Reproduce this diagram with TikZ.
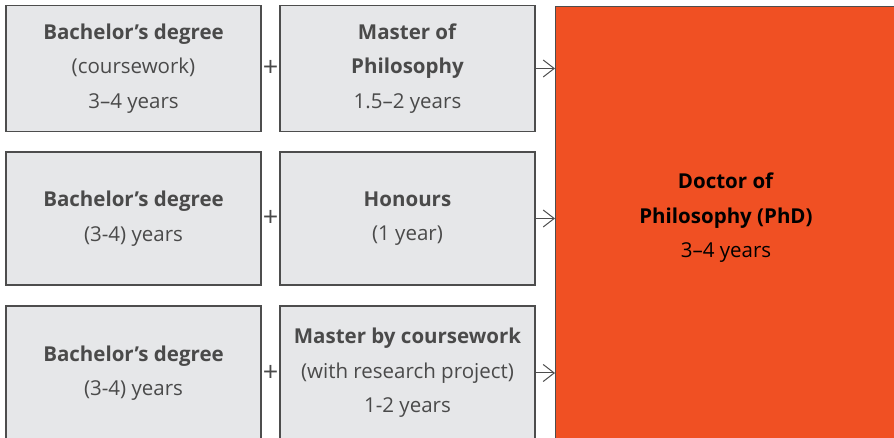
\documentclass[tikz,border=0pt]{standalone}
\usepackage{fontspec}
\setmainfont{Open Sans}
\usetikzlibrary{arrows.meta}
\definecolor{boxgrey}{HTML}{E6E7E9}
\definecolor{edgegrey}{HTML}{4D4D4D}
\definecolor{textgrey}{HTML}{4A4A4A}
\definecolor{phdorange}{HTML}{F05023}
\begin{document}
\begin{tikzpicture}[x=1pt, y=1pt,
  degbox/.style={draw=edgegrey, line width=1.2pt, fill=boxgrey, text=textgrey,
    align=center, inner sep=0pt, minimum width=255pt,
    font=\fontsize{20.5}{34.5}\selectfont},
  plussign/.style={text=textgrey, inner sep=0pt, font=\fontsize{27}{27}\selectfont},
  phdfill/.style={draw=edgegrey, line width=1pt, fill=phdorange, inner sep=0pt},
  phdtext/.style={align=center, text=black, font=\fontsize{20.5}{34.5}\selectfont},
  link/.style={draw=edgegrey, line width=1pt, -{Straight Barb[length=11pt, width=17pt]}}]
\useasboundingbox (0,0) rectangle (894,438);
% doctoral box
\node[phdfill, anchor=north west, minimum width=360pt, minimum height=450pt] (phdbox) at (555,432) {};
\node[phdtext] (phd) at (726,220) {\textbf{Doctor of}\\\textbf{Philosophy (PhD)}\\3–4 years};
% first route
\node[degbox, minimum height=126pt] (bach1) at (133.5,369.5) {\textbf{Bachelor’s degree}\\(coursework)\\3–4 years};
\node[degbox, minimum height=126pt] (mast1) at (407.5,369.5) {\textbf{Master of}\\\textbf{Philosophy}\\1.5–2 years};
\node[plussign] (plus1) at (270.5,369.5) {+};
\draw[link] (mast1.east) -- (mast1.east -| phdbox.west);
% second route
\node[degbox, minimum height=133pt] (bach2) at (133.5,219.5) {\textbf{Bachelor’s degree}\\(3-4) years};
\node[degbox, minimum height=133pt] (hons2) at (407.5,219.5) {\textbf{Honours}\\(1 year)};
\node[plussign] (plus2) at (270.5,219.5) {+};
\draw[link] (hons2.east) -- (hons2.east -| phdbox.west);
% third route
\node[degbox, minimum height=134pt] (bach3) at (133.5,65) {\textbf{Bachelor’s degree}\\(3-4) years};
\node[degbox, minimum height=134pt] (mast3) at (407.5,65) {\textbf{Master by coursework}\\(with research project)\\1-2 years};
\node[plussign] (plus3) at (270.5,65) {+};
\draw[link] (mast3.east) -- (mast3.east -| phdbox.west);
\end{tikzpicture}
\end{document}
